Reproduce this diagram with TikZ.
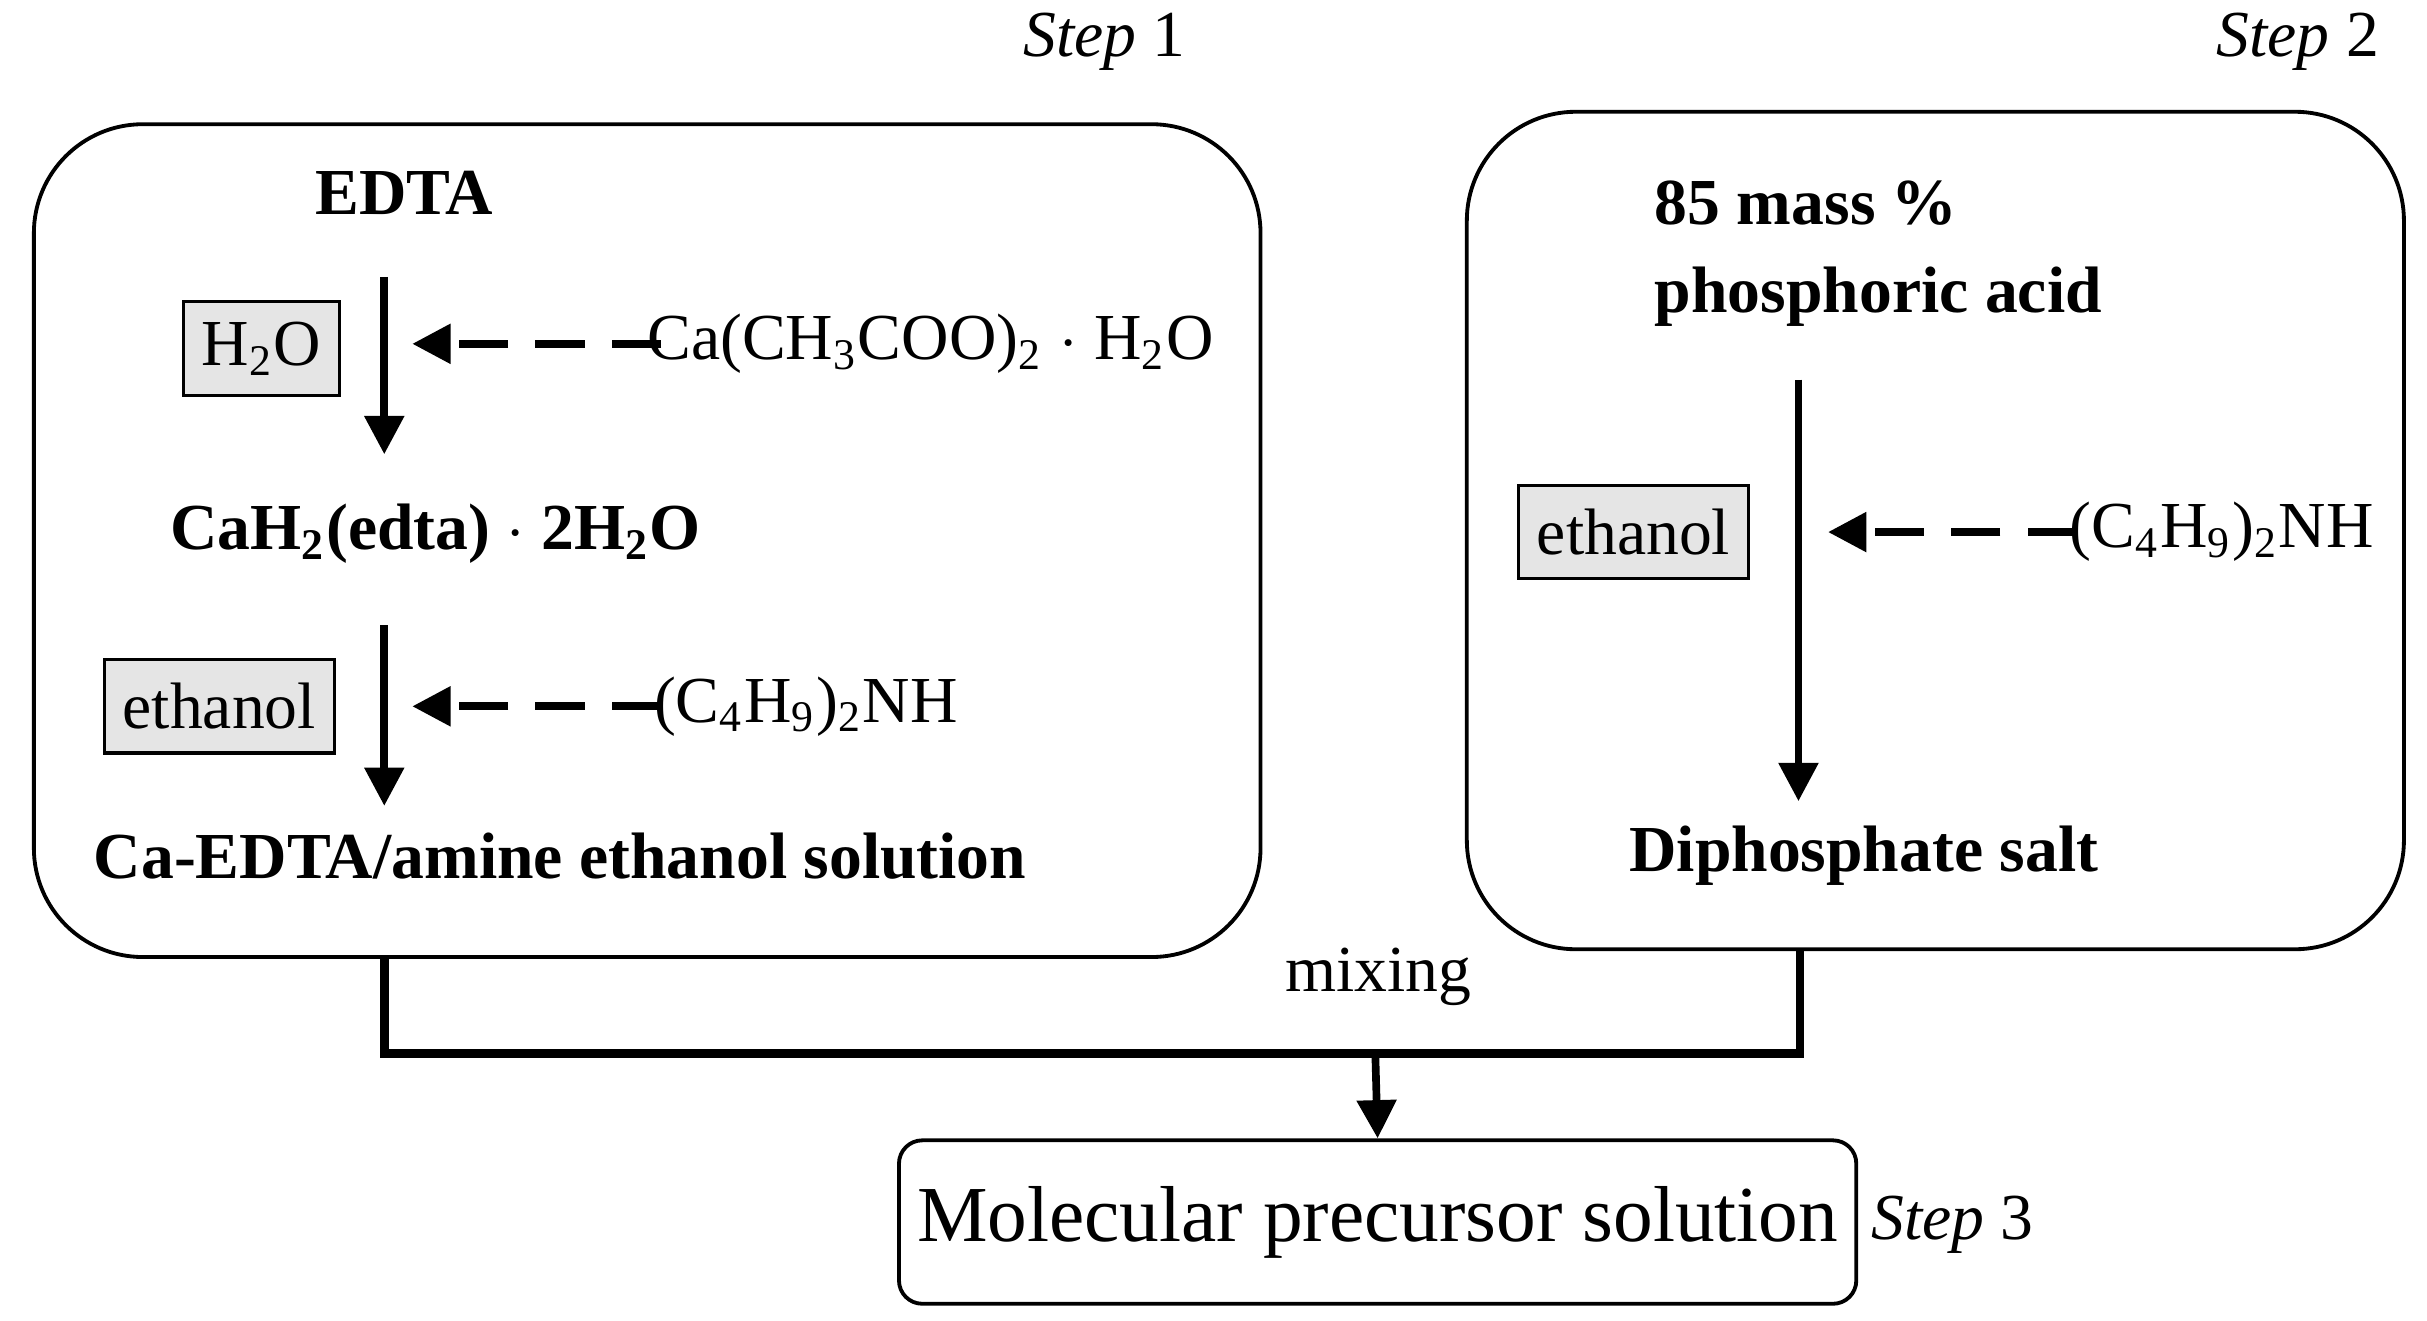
\documentclass[tikz,border=0pt]{standalone}
\usepackage{fontspec}
\setmainfont{Liberation Serif}
\usetikzlibrary{arrows.meta}
\begin{document}
\begin{tikzpicture}[x=0.01cm,y=-0.01cm,
  txt/.style={font=\fontsize{12}{14}\selectfont,inner sep=0pt},
  btxt/.style={font=\fontsize{12}{14}\selectfont\bfseries,inner sep=0pt},
  gbox/.style={draw,fill=gray!20,line width=0.6pt,minimum height=0.6cm,font=\fontsize{12}{14}\selectfont},
  big/.style={draw,line width=0.7pt,rounded corners=0.7cm},
  solid arr/.style={line width=1.4pt,-{Triangle[length=7pt,width=7pt]}},
  dash arr/.style={line width=1.4pt,dash pattern=on 9pt off 5pt,-{Triangle[length=7pt,width=7pt]}},
  steplbl/.style={font=\fontsize{12}{14}\selectfont,inner sep=0pt}]
\useasboundingbox (0,0) rectangle (1560,849);
\node[big,minimum width=7.88cm,minimum height=5.35cm] (b1) at (416,347.5) {};
\node[big,minimum width=6.02cm,minimum height=5.38cm] (b2) at (1244,341) {};
\node[draw,line width=0.7pt,rounded corners=0.15cm,minimum width=6.03cm,minimum height=1.05cm,font=\fontsize{14.5}{16}\selectfont] (b3) at (885.5,785.5) {Molecular precursor solution};
\node[steplbl] (s1) at (710,27) {\textit{Step} 1};
\node[steplbl] (s2) at (1477,27) {\textit{Step} 2};
\node[steplbl] (s3) at (1255,787) {\textit{Step} 3};
% step 1
\node[btxt] (edta) at (260,124) {EDTA};
\node[gbox,minimum width=0.92cm] (h2o) at (168,224) {H\textsubscript{2}O};
\coordinate (a1s) at (247,178); \coordinate (a1e) at (247,292);
\draw[solid arr] (a1s) -- (a1e);
\node[txt] (ca) at (598,221) {Ca(CH\textsubscript{3}COO)\textsubscript{2} $\cdot$ H\textsubscript{2}O};
\coordinate (d1s) at (425,221); \coordinate (d1e) at (265,221);
\draw[dash arr] (d1s) -- (d1e);
\node[btxt] (cah) at (280,343) {CaH\textsubscript{2}(edta) $\cdot$ 2H\textsubscript{2}O};
\node[gbox,minimum width=1.45cm] (eth1) at (141,454) {ethanol};
\coordinate (a2s) at (247,402); \coordinate (a2e) at (247,518);
\draw[solid arr] (a2s) -- (a2e);
\node[txt] (am1) at (518,454) {(C\textsubscript{4}H\textsubscript{9})\textsubscript{2}NH};
\coordinate (d2s) at (425,454); \coordinate (d2e) at (265,454);
\draw[dash arr] (d2s) -- (d2e);
\node[btxt] (caedta) at (360,550) {Ca-EDTA/amine ethanol solution};
% step 2
\node[btxt,align=left,anchor=west] (pa) at (1063,163) {85 mass \%\\[2pt]phosphoric acid};
\coordinate (a3s) at (1156,244); \coordinate (a3e) at (1156,515);
\draw[solid arr] (a3s) -- (a3e);
\node[gbox,minimum width=1.45cm] (eth2) at (1050,342) {ethanol};
\node[txt] (am2) at (1428,342) {(C\textsubscript{4}H\textsubscript{9})\textsubscript{2}NH};
\coordinate (d3s) at (1335,342); \coordinate (d3e) at (1175,342);
\draw[dash arr] (d3s) -- (d3e);
\node[btxt] (dps) at (1198,550) {Diphosphate salt};
% mixing
\coordinate (m1) at (247,615); \coordinate (m2) at (1157,610); \coordinate (mj) at (884,677);
\draw[line width=1.6pt] (m1) |- (mj) -| (m2);
\draw[solid arr] (mj) -- (b3.north);
\node[txt] (mix) at (886,628) {mixing};
\end{tikzpicture}
\end{document}
